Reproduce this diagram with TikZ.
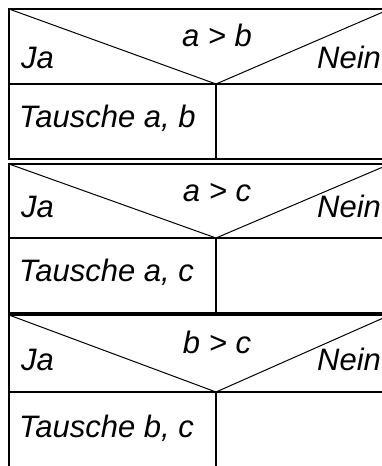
\documentclass[tikz,border=0pt]{standalone}
\usepackage{fontspec}
\setmainfont{Liberation Sans}
\tikzset{
  frame/.style={line width=1.8pt, line cap=rect},
  diag/.style={line width=1pt},
  lbl/.style={inner sep=0pt, font=\fontsize{31}{35}\selectfont\itshape},
}
\begin{document}
\begin{tikzpicture}[x=1pt, y=-1pt]
  \useasboundingbox (0,0) rectangle (382,466);
  \clip (0,0) rectangle (382,466);

  % ---- block 1: a > b ----
  \coordinate (t1l) at (9,9);
  \coordinate (t1r) at (390,9);
  \coordinate (m1l) at (9,84);
  \coordinate (m1r) at (390,84);
  \coordinate (p1)  at (216,84);
  \coordinate (b1l) at (9,159);
  \coordinate (b1r) at (390,159);
  \coordinate (b1m) at (216,159);
  \draw[frame] (t1r) -- (t1l) -- (b1l) -- (b1r);
  \draw[frame] (m1l) -- (m1r);
  \draw[frame] (p1) -- (b1m);
  \draw[diag] (t1l) -- (p1) -- (t1r);
  \node[lbl, anchor=base] (c1) at (217,46) {a > b};
  \node[lbl, anchor=base west] (ja1) at (21,68) {Ja};
  \node[lbl, anchor=base west] (no1) at (317,68) {Nein};
  \node[lbl, anchor=base west] (act1) at (19,127) {Tausche a, b};

  % ---- block 2: a > c ----
  \coordinate (t2l) at (9,164);
  \coordinate (t2r) at (390,164);
  \coordinate (m2l) at (9,238);
  \coordinate (m2r) at (390,238);
  \coordinate (p2)  at (216,238);
  \coordinate (b2l) at (9,313);
  \coordinate (b2r) at (390,313);
  \coordinate (b2m) at (216,313);
  \draw[frame] (t2r) -- (t2l) -- (b2l) -- (b2r);
  \draw[frame] (m2l) -- (m2r);
  \draw[frame] (p2) -- (b2m);
  \draw[diag] (t2l) -- (p2) -- (t2r);
  \node[lbl, anchor=base] (c2) at (217,201) {a > c};
  \node[lbl, anchor=base west] (ja2) at (21,217) {Ja};
  \node[lbl, anchor=base west] (no2) at (317,217) {Nein};
  \node[lbl, anchor=base west] (act2) at (19,281) {Tausche a, c};

  % ---- block 3: b > c ----
  \coordinate (t3l) at (9,315);
  \coordinate (t3r) at (390,315);
  \coordinate (m3l) at (9,392);
  \coordinate (m3r) at (390,392);
  \coordinate (p3)  at (216,392);
  \coordinate (b3l) at (9,470);
  \coordinate (b3m) at (216,470);
  \draw[frame] (t3r) -- (t3l) -- (b3l);
  \draw[frame] (m3l) -- (m3r);
  \draw[frame] (p3) -- (b3m);
  \draw[diag] (t3l) -- (p3) -- (t3r);
  \node[lbl, anchor=base] (c3) at (217,353) {b > c};
  \node[lbl, anchor=base west] (ja3) at (21,370) {Ja};
  \node[lbl, anchor=base west] (no3) at (317,370) {Nein};
  \node[lbl, anchor=base west] (act3) at (19,437) {Tausche b, c};
\end{tikzpicture}
\end{document}
